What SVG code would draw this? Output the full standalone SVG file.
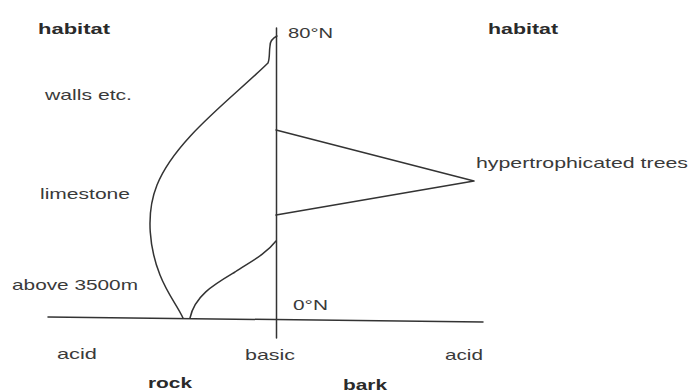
<svg xmlns="http://www.w3.org/2000/svg" width="690" height="392" viewBox="0 0 690 392">
<style>
.t{font-family:"Liberation Sans",Arial,sans-serif;font-size:15px;fill:#3a3a3a}
.b{font-weight:bold;fill:#2a2a2a}
.ln{fill:none;stroke:#333;stroke-width:1.5;stroke-linecap:round;stroke-linejoin:round}
</style>
<rect width="690" height="392" fill="#fff"/>
<g id="axes">
<line class="ln" x1="276.5" y1="28" x2="276.5" y2="338"/>
<line class="ln" x1="48" y1="317" x2="483" y2="322"/>
</g>
<g id="rock-curves">
<path class="ln" d="M 277 36 C 273 38, 270 41, 270 46 C 269 52, 270 58, 268 63 C 230 100, 175 140, 157 185 C 145 215, 150 250, 160 275 C 168 295, 177 305, 183 318"/>
<path class="ln" d="M 276 241 C 265 255, 250 262, 235 272 C 215 284, 195 295, 190 318"/>
</g>
<g id="bark-curve">
<path class="ln" d="M 276 130 L 474 181 L 276 215"/>
</g>
<g id="labels">
<text class="t b" x="38" y="34" textLength="72" lengthAdjust="spacingAndGlyphs">habitat</text>
<text class="t b" x="488" y="34" textLength="70" lengthAdjust="spacingAndGlyphs">habitat</text>
<text class="t" x="288" y="38" textLength="45" lengthAdjust="spacingAndGlyphs">80°N</text>
<text class="t" x="45" y="100" textLength="87" lengthAdjust="spacingAndGlyphs">walls etc.</text>
<text class="t" x="40" y="199" textLength="90" lengthAdjust="spacingAndGlyphs">limestone</text>
<text class="t" x="476" y="168" textLength="212" lengthAdjust="spacingAndGlyphs">hypertrophicated trees</text>
<text class="t" x="12" y="290" textLength="126" lengthAdjust="spacingAndGlyphs">above 3500m</text>
<text class="t" x="293" y="310" textLength="35" lengthAdjust="spacingAndGlyphs">0°N</text>
<text class="t" x="57" y="359" textLength="40" lengthAdjust="spacingAndGlyphs">acid</text>
<text class="t" x="245" y="360" textLength="50" lengthAdjust="spacingAndGlyphs">basic</text>
<text class="t" x="445" y="360" textLength="38" lengthAdjust="spacingAndGlyphs">acid</text>
<text class="t b" x="148" y="388" textLength="44" lengthAdjust="spacingAndGlyphs">rock</text>
<text class="t b" x="343" y="390" textLength="44" lengthAdjust="spacingAndGlyphs">bark</text>
</g>
</svg>
